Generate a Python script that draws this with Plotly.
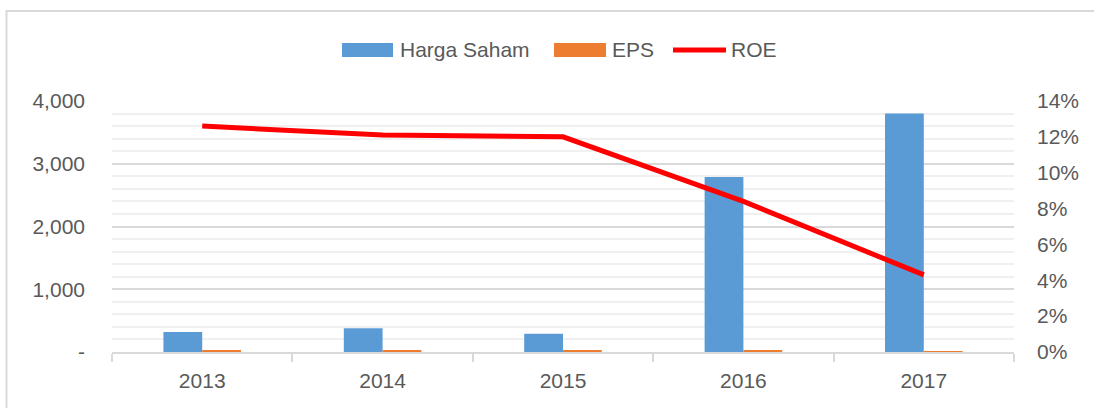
import plotly.graph_objects as go

years = ["2013", "2014", "2015", "2016", "2017"]
harga_saham = [320, 380, 290, 2790, 3800]
eps = [30, 30, 28, 20, 8]
roe = [0.126, 0.121, 0.120, 0.084, 0.043]

left_tickvals = [0, 1000, 2000, 3000, 4000]
left_ticktext = ["-", "1,000", "2,000", "3,000", "4,000"]

series_names = ["Harga Saham", "EPS", "ROE"]
series_colors = ["#5B9BD5", "#ED7D31", "#FF0000"]

font_family = "Liberation Sans, Arial, sans-serif"
text_color = "#595959"
fs = 21

fig = go.Figure()
fig.add_trace(go.Bar(name=series_names[0], x=years, y=harga_saham,
                     marker=dict(color=series_colors[0], line=dict(width=0)), yaxis="y"))
fig.add_trace(go.Bar(name=series_names[1], x=years, y=eps,
                     marker=dict(color=series_colors[1], line=dict(width=0)), yaxis="y"))
fig.add_trace(go.Scatter(name=series_names[2], x=years, y=roe, mode="lines",
                         line=dict(color=series_colors[2], width=5), yaxis="y2"))

W, H = 1094, 408
L, R, T, B = 112, 80, 101, 56
pw, ph = W - L - R, H - T - B

def px_x(px):
    return (px - L) / pw

def px_y(py):
    return (H - B - py) / ph

# custom legend (wide swatches like the original)
legend_y = 50
shapes = [
    dict(type="rect", xref="paper", yref="paper",
         x0=px_x(6.5), x1=px_x(1110), y0=px_y(420), y1=px_y(11),
         line=dict(color="#d9d9d9", width=2), fillcolor="rgba(0,0,0,0)", layer="below"),
    dict(type="rect", xref="paper", yref="paper",
         x0=px_x(342), x1=px_x(393), y0=px_y(57), y1=px_y(43),
         line=dict(width=0), fillcolor=series_colors[0]),
    dict(type="rect", xref="paper", yref="paper",
         x0=px_x(554), x1=px_x(606), y0=px_y(57), y1=px_y(43),
         line=dict(width=0), fillcolor=series_colors[1]),
    dict(type="line", xref="paper", yref="paper",
         x0=px_x(673), x1=px_x(726), y0=px_y(legend_y), y1=px_y(legend_y),
         line=dict(color=series_colors[2], width=5)),
]
annotations = [
    dict(text=series_names[0], xref="paper", yref="paper", x=px_x(398), y=px_y(legend_y),
         xanchor="left", yanchor="middle", showarrow=False, font=dict(size=fs, color=text_color)),
    dict(text=series_names[1], xref="paper", yref="paper", x=px_x(610), y=px_y(legend_y),
         xanchor="left", yanchor="middle", showarrow=False, font=dict(size=fs, color=text_color)),
    dict(text=series_names[2], xref="paper", yref="paper", x=px_x(729), y=px_y(legend_y),
         xanchor="left", yanchor="middle", showarrow=False, font=dict(size=fs, color=text_color)),
]

fig.update_layout(
    width=W, height=H,
    margin=dict(l=L, r=R, t=T, b=B),
    paper_bgcolor="white", plot_bgcolor="white",
    font=dict(family=font_family, size=fs, color=text_color),
    barmode="group", bargap=0.57, bargroupgap=0,
    showlegend=False,
    xaxis=dict(type="category", showgrid=False, showline=True, linecolor="#d9d9d9", linewidth=1.5,
               ticks="outside", tickson="boundaries", ticklen=8, tickcolor="#d9d9d9", tickwidth=1.5,
               ticklabelstandoff=9,
               tickfont=dict(size=fs, color=text_color)),
    yaxis=dict(range=[0, 4000], tickvals=left_tickvals, ticktext=left_ticktext,
               showgrid=True, gridcolor="#d9d9d9", gridwidth=1.5, zeroline=False,
               showline=False, ticks="", ticklabelstandoff=26,
               minor=dict(dtick=200, showgrid=True, gridcolor="#f0f0f0", gridwidth=1.5),
               tickfont=dict(size=fs, color=text_color)),
    yaxis2=dict(range=[0, 0.14], overlaying="y", side="right", dtick=0.02, tickformat=".0%",
                showgrid=False, zeroline=False, showline=False, ticks="", ticklabelstandoff=22,
                tickfont=dict(size=fs, color=text_color)),
    shapes=shapes,
    annotations=annotations,
)

fig.write_html("out.html", config={"displayModeBar": False},
               post_script="document.body.style.margin='0';document.body.style.overflow='hidden';")
